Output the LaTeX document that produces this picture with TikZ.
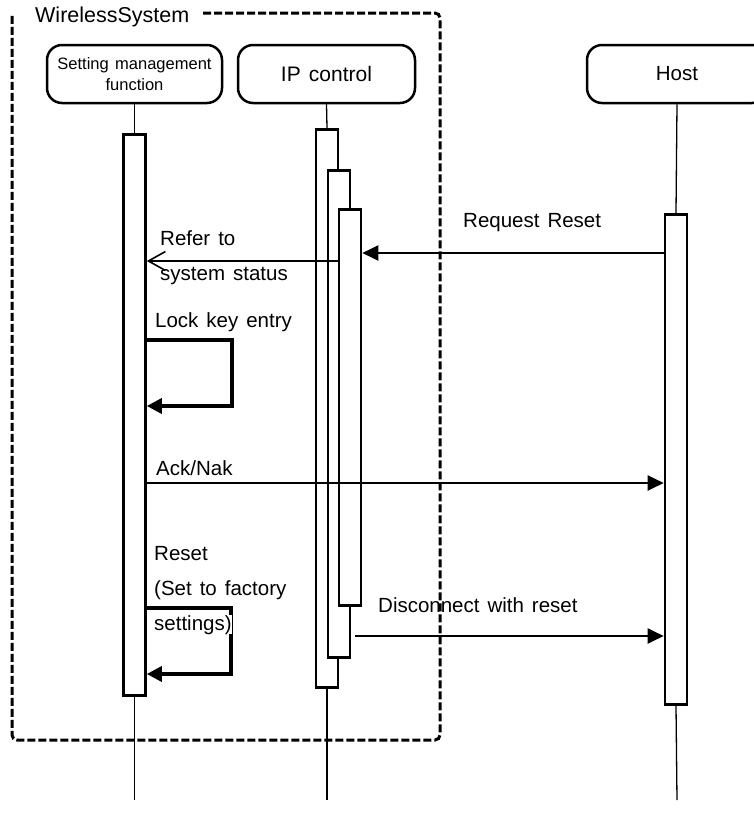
\documentclass[tikz,border=0pt]{standalone}
\usepackage{fontspec}
\setmainfont{Liberation Sans}[WordSpace=1.4]
\usetikzlibrary{arrows.meta}
\begin{document}
\begin{tikzpicture}[x=1pt,y=-1pt,
  head/.style={draw, line width=2.5pt, rounded corners=15pt, minimum height=58pt, align=center, inner sep=0pt},
  bar/.style={draw, fill=white, line width=2.6pt, minimum width=22pt, inner sep=0pt, anchor=north},
  life/.style={line width=1.3pt},
  msg/.style={line width=2pt, -{Triangle[length=16pt,width=15pt]}},
  ret/.style={line width=2pt, -{Straight Barb[length=17pt,width=19pt,line width=1.6pt]}},
  selfmsg/.style={line width=3.5pt, -{Triangle[length=15pt,width=15pt]}},
  frame/.style={line width=3pt, dash pattern=on 8pt off 3pt, rounded corners=5pt},
  lbl/.style={anchor=base west, inner sep=0pt, font=\fontsize{20.5}{24}\selectfont},
]
\useasboundingbox (0,0) rectangle (754,825);

% frame
\draw[frame] (203,13) -- (440,13) -- (440,740) -- (12,740) -- (12,13);
\node[lbl, font=\fontsize{21.5}{24}\selectfont] (ws) at (35,22) {WirelessSystem};

% heads
\node[head, minimum width=175pt, font=\fontsize{16.5}{17}\selectfont] (smf) at (134.5,74) {Setting management\\[4pt]function};
\node[head, minimum width=177pt, font=\fontsize{21}{24}\selectfont] (ipc) at (326.5,74) {IP control};
\node[head, minimum width=180pt, font=\fontsize{20.5}{24}\selectfont] (host) at (677,74) {Host};

% end coordinates
\coordinate (sEnd) at (134.5,800);
\coordinate (iEnd) at (327,800);
\coordinate (hEnd) at (677,800);

% bars
\node[bar, minimum height=561pt] (sbar) at (134.5,133) {};
\node[bar, minimum height=558pt] (ip1) at (327,128) {};
\node[bar, minimum height=487pt] (ip2) at (339,169) {};
\node[bar, minimum height=396pt] (ip3) at (350,208) {};
\node[bar, minimum height=490pt] (hbar) at (676,213) {};

% lifelines
\draw[life] (smf.south) -- (sbar.north);
\draw[life] (sbar.south) -- (sEnd);
\draw[life] (ipc.south) -- (ip1.north);
\draw[life] (ip1.south) -- (iEnd);
\draw[life] (host.south -| hEnd) -- (hbar.north);
\draw[life] (hbar.south) -- (hEnd);

% y levels
\coordinate (yRR) at (0,253);
\coordinate (yRF) at (0,261);
\coordinate (lk) at (232,340);
\coordinate (lkb) at (0,406);
\coordinate (yAN) at (0,483);
\coordinate (rs) at (231,608);
\coordinate (rsb) at (0,674);
\coordinate (yDC) at (0,636);

% messages
\draw[msg] (hbar.west |- yRR) -- (ip3.east |- yRR);
\node[lbl] (lRR) at (463,227) {Request Reset};

\draw[ret] (ip3.west |- yRF) -- (sbar.east |- yRF);
\node[lbl] (lRF1) at (160,245) {Refer to};
\node[lbl] (lRF2) at (160,280) {system status};

\draw[selfmsg] (sbar.east |- lk) -- (lk) -- (lk |- lkb) -- (sbar.east |- lkb);
\node[lbl] (lLK) at (155,327) {Lock key entry};

\draw[msg] (sbar.east |- yAN) -- (hbar.west |- yAN);
\node[lbl] (lAN) at (156,475) {Ack/Nak};

\draw[selfmsg] (sbar.east |- rs) -- (rs) -- (rs |- rsb) -- (sbar.east |- rsb);
\node[lbl] (lRS1) at (154,560) {Reset};
\node[lbl] (lRS2) at (154,595) {(Set to factory};
\node[lbl, fill=white, inner xsep=0pt] (lRS3) at (154,630) {settings)};

\draw[msg] ([xshift=4pt]ip2.east |- yDC) -- (hbar.west |- yDC);
\node[lbl] (lDC) at (378,612) {Disconnect with reset};
\end{tikzpicture}
\end{document}
